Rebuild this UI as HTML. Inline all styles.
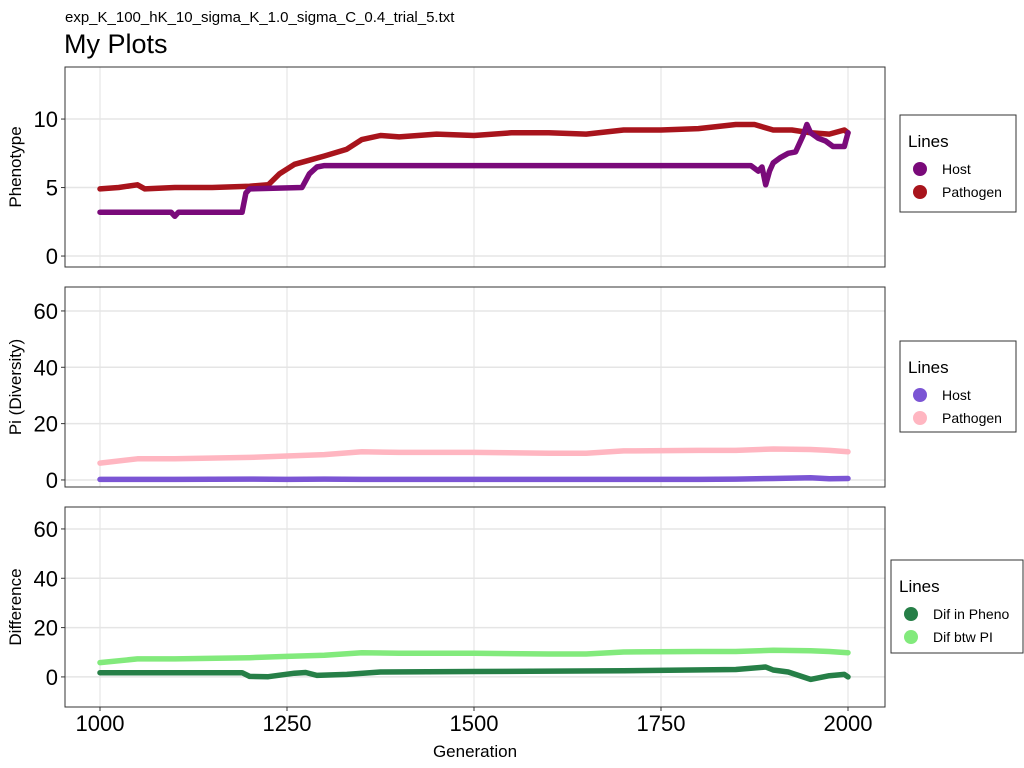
<!DOCTYPE html>
<html><head><meta charset="utf-8">
<style>
body{margin:0;background:#fff;}
svg{display:block;font-family:"Liberation Sans",sans-serif;}
</style></head>
<body>
<svg id="chart" width="1024" height="768" xmlns="http://www.w3.org/2000/svg">
<text x="65" y="22" font-size="15">exp_K_100_hK_10_sigma_K_1.0_sigma_C_0.4_trial_5.txt</text>
<text x="64" y="53" font-size="27">My Plots</text>
<text x="475" y="757" font-size="17" text-anchor="middle">Generation</text>
</svg>
<script>
const xTicks=[1000,1250,1500,1750,2000];
// Panel 1: phenotype
const hostPhenoGen=[1000,1095,1100,1105,1190,1195,1200,1270,1280,1290,1300,1870,1880,1885,1890,1895,1900,1910,1920,1930,1940,1945,1950,1960,1970,1980,1995,2000];
const hostPheno=[3.2,3.2,2.9,3.2,3.2,4.6,4.9,5.0,6.0,6.5,6.6,6.6,6.2,6.5,5.2,6.2,6.8,7.2,7.5,7.6,8.8,9.6,9.0,8.6,8.4,8.0,8.0,9.0];
const pathPhenoGen=[1000,1025,1050,1060,1100,1150,1200,1225,1240,1260,1280,1300,1330,1350,1375,1400,1450,1500,1550,1600,1650,1700,1750,1800,1850,1875,1900,1925,1950,1975,1995,2000];
const pathPheno=[4.9,5.0,5.2,4.9,5.0,5.0,5.1,5.2,6.0,6.7,7.0,7.3,7.8,8.5,8.8,8.7,8.9,8.8,9.0,9.0,8.9,9.2,9.2,9.3,9.6,9.6,9.2,9.2,9.0,8.9,9.2,9.0];
// Panel 2: Pi
const piGen=[1000,1050,1100,1200,1250,1300,1350,1400,1500,1600,1650,1700,1800,1850,1900,1950,1975,2000];
const piHost=[0.2,0.2,0.2,0.3,0.2,0.3,0.2,0.2,0.2,0.2,0.2,0.2,0.2,0.3,0.5,0.8,0.4,0.5];
const piPath=[6.0,7.5,7.5,8.0,8.5,9.0,10.0,9.8,9.8,9.5,9.5,10.3,10.5,10.5,11.0,10.8,10.5,10.0];
// Panel 3: differences
const difPhenoGen=[1000,1190,1200,1225,1260,1275,1290,1330,1375,1500,1700,1850,1890,1900,1920,1950,1975,1995,2000];
const difPheno=[1.7,1.7,0.2,0.1,1.5,1.8,0.6,1.0,2.0,2.2,2.5,3.0,4.0,2.8,2.0,-1.0,0.5,1.0,0.0];
const difPi=[5.8,7.3,7.3,7.8,8.3,8.8,9.8,9.6,9.6,9.3,9.3,10.1,10.3,10.3,10.8,10.6,10.3,9.8];

const NS='http://www.w3.org/2000/svg';
const svg=document.getElementById('chart');
function mk(tag,attrs,parent){const e=document.createElementNS(NS,tag);for(const k in attrs)e.setAttribute(k,attrs[k]);(parent||svg).appendChild(e);return e;}
const X0=65,X1=885;
const xs=g=>100+(g-1000)*0.748;

const panels=[
 {name:'phenotype',top:67,bot:267,ymin:-0.8,ymax:13.8,ticks:[0,5,10],title:'Phenotype',
  series:[{n:'pathogen-pheno-line',g:pathPhenoGen,v:pathPheno,c:'#A8141C'},{n:'host-pheno-line',g:hostPhenoGen,v:hostPheno,c:'#7A0A7A'}],
  legend:{x:900,y:115,w:116,h:97,items:[['Host','#7A0A7A'],['Pathogen','#A8141C']]}},
 {name:'pi',top:287,bot:487,ymin:-2.5,ymax:68.5,ticks:[0,20,40,60],title:'Pi (Diversity)',
  series:[{n:'pathogen-pi-line',g:piGen,v:piPath,c:'#FFB6C1'},{n:'host-pi-line',g:piGen,v:piHost,c:'#7B55D4'}],
  legend:{x:900,y:341,w:116,h:91,items:[['Host','#7B55D4'],['Pathogen','#FFB6C1']]}},
 {name:'difference',top:507,bot:707,ymin:-12.2,ymax:68.9,ticks:[0,20,40,60],title:'Difference',
  series:[{n:'dif-pi-line',g:piGen,v:difPi,c:'#82EA7C'},{n:'dif-pheno-line',g:difPhenoGen,v:difPheno,c:'#267F47'}],
  legend:{x:891,y:560,w:132,h:93,items:[['Dif in Pheno','#267F47'],['Dif btw PI','#82EA7C']]}}
];

panels.forEach((p,pi)=>{
 const ys=v=>p.bot-(v-p.ymin)/(p.ymax-p.ymin)*(p.bot-p.top);
 const g=mk('g',{});
 
 
 // grid
 xTicks.forEach(t=>{const l=mk('line',{x1:xs(t),x2:xs(t),y1:p.top,y2:p.bot,stroke:'#e5e5e5','stroke-width':1.2},g);
  });
 p.ticks.forEach(t=>{
  const l=mk('line',{x1:X0,x2:X1,y1:ys(t),y2:ys(t),stroke:'#e5e5e5','stroke-width':1.5},g);
  
  mk('line',{x1:X0-4,x2:X0,y1:ys(t),y2:ys(t),stroke:'#333','stroke-width':1},g);
  const tx=mk('text',{x:X0-7,y:ys(t)+8,'font-size':22,'text-anchor':'end',fill:'#000'},g);
  tx.textContent=t;
  
 });
 // series
 p.series.forEach(s=>{
  const d=s.g.map((gv,i)=>(i?'L':'M')+xs(gv).toFixed(1)+','+ys(s.v[i]).toFixed(1)).join('');
  const path=mk('path',{d:d,fill:'none',stroke:s.c,'stroke-width':5.5,'stroke-linejoin':'round','stroke-linecap':'round'},g);
  
  
 });
 const fr=mk('rect',{x:X0,y:p.top,width:X1-X0,height:p.bot-p.top,fill:'none',stroke:'#333','stroke-width':1},g);
 
 // y title
 const cy=(p.top+p.bot)/2;
 const yt=mk('text',{x:21,y:cy,'font-size':17,'text-anchor':'middle',transform:'rotate(-90 21 '+cy+')'},g);
 yt.textContent=p.title;
 
 // legend
 const L=p.legend;
 const lg=mk('g',{},g);
 
 
 mk('rect',{x:L.x,y:L.y,width:L.w,height:L.h,fill:'#fff',stroke:'#333','stroke-width':1},lg);
 const lt=mk('text',{x:L.x+8,y:L.y+32,'font-size':17},lg);lt.textContent='Lines';
 
 L.items.forEach((it,i)=>{
  const yy=L.y+54+i*23;
  const c=mk('circle',{cx:L.x+20,cy:yy,r:7,fill:it[1]},lg);
  
  const t=mk('text',{x:L.x+42,y:yy+5,'font-size':14},lg);t.textContent=it[0];
  
 });
 if(pi===2){
  xTicks.forEach(t=>{
   mk('line',{x1:xs(t),x2:xs(t),y1:p.bot,y2:p.bot+4,stroke:'#333','stroke-width':1},g);
   const tx=mk('text',{x:xs(t),y:p.bot+24,'font-size':22,'text-anchor':'middle'},g);
   tx.textContent=t;
   
  });
 }
});
</script>
</body></html>
